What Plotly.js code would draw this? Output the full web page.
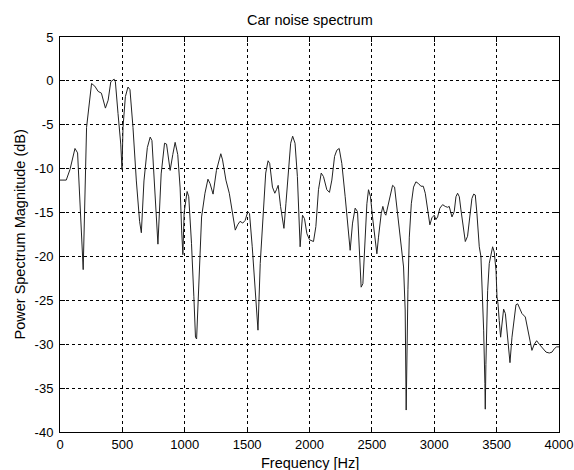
<!DOCTYPE html>
<html>
<head>
<meta charset="utf-8">
<script src="https://cdn.plot.ly/plotly-3.0.1.min.js"></script>
<style>html,body{margin:0;padding:0;background:#fff;}#chart{width:574px;height:470px;}</style>
</head>
<body>
<div id="chart"></div>
<script>
const freqHz = [0,50,80,120,141,165,186,213,253,279,306,332,364,386,407,434,444,465,487,497,505,524,545,561,585,612,638,652,673,700,723,737,758,785,811,838,854,883,904,923,944,963,975,985,995,1019,1032,1054,1073,1086,1095,1114,1135,1162,1186,1203,1227,1254,1289,1303,1330,1357,1384,1405,1424,1443,1465,1484,1505,1519,1541,1560,1573,1587,1605,1627,1649,1668,1681,1703,1722,1735,1749,1768,1795,1811,1830,1849,1865,1884,1903,1915,1925,1944,1960,1979,2000,2032,2051,2072,2094,2112,2139,2160,2179,2201,2219,2238,2259,2286,2308,2326,2345,2366,2385,2401,2414,2428,2447,2460,2473,2489,2505,2521,2540,2553,2575,2588,2602,2612,2628,2647,2666,2682,2700,2719,2741,2754,2767,2775,2789,2800,2816,2834,2853,2874,2893,2912,2928,2947,2965,2981,3000,3013,3027,3045,3067,3088,3107,3120,3142,3160,3174,3187,3201,3214,3233,3249,3267,3286,3302,3316,3329,3342,3361,3374,3388,3396,3406,3409,3414,3420,3428,3441,3457,3468,3481,3495,3503,3511,3521,3532,3543,3556,3570,3583,3596,3607,3623,3642,3655,3669,3682,3703,3730,3749,3767,3783,3802,3821,3842,3869,3896,3922,3944,3963,3981,4000];
const magnitudeDb = [-11.3,-11.3,-10.1,-7.7,-8.2,-15,-21.5,-5.3,-0.3,-0.6,-1.2,-1.4,-3.1,-2.2,-0.1,0.2,-0.1,-3.7,-7.2,-10.1,-5.3,-1.8,-0.7,-1,-5.3,-11.4,-16,-17.3,-11.4,-7.6,-6.4,-6.8,-11.4,-18.6,-10.6,-7.1,-7.2,-10.2,-8.4,-7,-8.4,-12.2,-17,-19.8,-15,-12.6,-13.2,-18.5,-24.6,-29.2,-29.4,-22.3,-15.5,-12.8,-11.2,-11.7,-12.9,-10.2,-8.3,-9,-11.3,-12.8,-15.3,-17,-16.4,-16,-16.2,-15.9,-14.9,-15.1,-18.9,-22.7,-26.5,-28.4,-20.8,-15.1,-10.5,-9.1,-9.4,-12.1,-12.8,-12.4,-11.9,-14.3,-16.8,-14,-10.2,-7.1,-6.3,-7.1,-10.9,-16,-18.9,-15.3,-15.7,-17.4,-18.1,-18.3,-16.6,-12.4,-10.5,-10.9,-12.4,-12.7,-11.3,-8.6,-7.9,-7.7,-9.4,-13.2,-17,-19.3,-16.2,-14.5,-14.9,-18.9,-23.5,-23.1,-17.8,-14,-12.4,-13.2,-15.5,-17.8,-19.7,-17.8,-15.1,-14.3,-15.1,-15.3,-14.3,-12.8,-11.9,-12.1,-14.3,-16.2,-18.9,-21.2,-26.1,-37.5,-23.8,-17.8,-14,-12.1,-11.5,-11.7,-12,-12,-12.8,-14.7,-16.4,-15.6,-15.3,-15.8,-15.5,-14.5,-14.1,-14.3,-14.4,-14.3,-15.5,-14.9,-13.2,-12.8,-13.2,-14.7,-17,-18.3,-17.7,-15.5,-13.4,-12.9,-13,-15.1,-18.9,-20,-24.6,-28.4,-34.5,-37.4,-32.3,-27.7,-23.9,-20.8,-19.5,-18.9,-19.5,-21.6,-24.6,-25.4,-27.3,-29.2,-27.7,-26,-26.5,-28.4,-30.7,-32.1,-29.2,-26.5,-25.5,-25.4,-25.8,-26.5,-26.9,-28.4,-29.6,-30.7,-30,-29.6,-30,-30.4,-30.9,-31,-30.9,-30.5,-30.3,-30.3];
const xTicks = [0,500,1000,1500,2000,2500,3000,3500,4000];
const yTicks = [5,0,-5,-10,-15,-20,-25,-30,-35,-40];
const titleText = 'Car noise spectrum';
const xTitle = 'Frequency [Hz]';
const yTitle = 'Power Spectrum Magnitude (dB)';

const tickFont = {family: 'Liberation Sans, Arial, sans-serif', size: 13, color: '#000'};
const labelFont = {family: 'Liberation Sans, Arial, sans-serif', size: 14.5, color: '#000'};
const axisCommon = {
  showline: true, linecolor: '#000', linewidth: 1, mirror: 'ticks',
  ticks: 'inside', ticklen: 5, tickcolor: '#000', tickwidth: 1,
  showgrid: true, gridcolor: '#000', gridwidth: 1, griddash: '3px,3px',
  zeroline: false, tickfont: tickFont, fixedrange: true
};
Plotly.newPlot('chart', [{
  x: freqHz, y: magnitudeDb, type: 'scatter', mode: 'lines',
  line: {color: '#222', width: 1}, hoverinfo: 'skip'
}], {
  width: 574, height: 470,
  margin: {l: 60, r: 15, t: 37, b: 38},
  paper_bgcolor: '#fff', plot_bgcolor: '#fff',
  showlegend: false,
  font: tickFont,
  xaxis: Object.assign({}, axisCommon, {range: [0, 4000], tickvals: xTicks, ticktext: xTicks.map(String), ticklabelstandoff: 0}),
  yaxis: Object.assign({}, axisCommon, {range: [-40, 5], tickvals: yTicks, ticktext: yTicks.map(String), ticklabelstandoff: 3}),
  annotations: [
    {text: titleText, xref: 'paper', yref: 'paper', x: 0.5, y: 1, yshift: 17, showarrow: false, font: labelFont, xanchor: 'center', yanchor: 'middle'},
    {text: xTitle, xref: 'paper', yref: 'paper', x: 0.5, y: 0, yshift: -31, showarrow: false, font: labelFont, xanchor: 'center', yanchor: 'middle'},
    {text: yTitle, xref: 'paper', yref: 'paper', x: 0, y: 0.5, xshift: -41, textangle: -90, showarrow: false, font: labelFont, xanchor: 'center', yanchor: 'middle'}
  ]
}, {staticPlot: true, displayModeBar: false});
</script>
</body>
</html>
